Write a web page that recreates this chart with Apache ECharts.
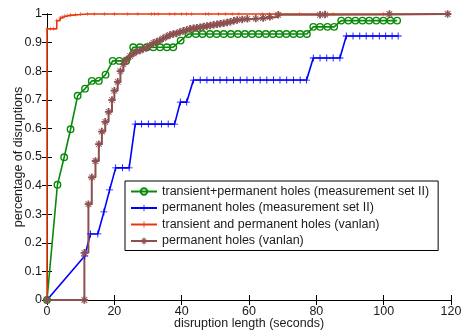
<!DOCTYPE html>
<html>
<head>
<meta charset="utf-8">
<script src="https://cdn.jsdelivr.net/npm/echarts@6/dist/echarts.min.js"></script>
<style>
  html, body { margin: 0; padding: 0; background: #fff; }
  #chart { width: 461px; height: 331px; }
</style>
</head>
<body>
<div id="chart"></div>
<script>
// Axis ticks
const xTicks = [0, 20, 40, 60, 80, 100, 120];
const yTicks = [0, 0.1, 0.2, 0.3, 0.4, 0.5, 0.6, 0.7, 0.8, 0.9, 1];

// Legend names
const seriesNames = [
  'transient+permanent holes (measurement set II)',
  'permanent holes (measurement set II)',
  'transient and permanent holes (vanlan)',
  'permanent holes (vanlan)'
];

// transient+permanent holes (measurement set II)
const tpMeasX = [0, 3.1, 5.1, 7.0, 9.1, 11.3, 13.3, 15.4, 17.4, 19.5, 21.5, 23.5, 25.6, 27.6, 29.6, 31.6, 33.6, 35.6, 37.5, 39.7, 42.0, 44.2, 46.2, 48.4, 50.4, 52.5, 54.6, 56.7, 58.8, 60.9, 62.9, 65.0, 67.1, 69.0, 71.1, 73.2, 75.2, 77.2, 79.1, 81.1, 83.3, 85.3, 87.4, 89.5, 91.6, 93.7, 95.7, 97.8, 99.9, 102.0, 104.0];
const tpMeasY = [0, 0.403, 0.499, 0.597, 0.714, 0.739, 0.766, 0.766, 0.788, 0.836, 0.836, 0.836, 0.884, 0.884, 0.884, 0.884, 0.884, 0.884, 0.884, 0.907, 0.930, 0.930, 0.930, 0.930, 0.930, 0.930, 0.930, 0.930, 0.930, 0.930, 0.930, 0.930, 0.930, 0.930, 0.930, 0.930, 0.930, 0.930, 0.955, 0.955, 0.955, 0.955, 0.977, 0.977, 0.977, 0.977, 0.977, 0.977, 0.977, 0.977, 0.977];

// permanent holes (measurement set II)
const pMeasX = [0, 11.2, 12.9, 15.1, 16.9, 18.6, 20.4, 22.4, 24.4, 26.2, 28.1, 30.1, 32.1, 34.0, 36.0, 37.9, 39.6, 41.5, 43.5, 45.5, 47.5, 49.5, 51.4, 53.4, 55.4, 57.4, 59.4, 61.3, 63.3, 65.3, 67.3, 69.2, 71.2, 73.2, 75.2, 77.1, 79.1, 81.1, 83.1, 85.0, 87.0, 88.9, 90.9, 92.9, 94.8, 96.8, 98.7, 100.6, 102.5, 104.3];
const pMeasY = [0, 0.154, 0.231, 0.231, 0.308, 0.385, 0.462, 0.462, 0.462, 0.615, 0.615, 0.615, 0.615, 0.615, 0.615, 0.615, 0.692, 0.692, 0.769, 0.769, 0.769, 0.769, 0.769, 0.769, 0.769, 0.769, 0.769, 0.769, 0.769, 0.769, 0.769, 0.769, 0.769, 0.769, 0.769, 0.769, 0.846, 0.846, 0.846, 0.846, 0.846, 0.923, 0.923, 0.923, 0.923, 0.923, 0.923, 0.923, 0.923, 0.923];

// transient and permanent holes (vanlan)
const tpVanX = [0, 0, 1.0, 2.0, 2.9, 3.9, 4.5, 5.2, 6.0, 7.0, 8.5, 10.0, 12.0, 14.0, 17.0, 20.0, 24.0, 27.0, 31.0, 32.0, 33.0, 36.5, 38.0, 40.0, 41.5, 43.0, 47.0, 48.0, 51.0, 53.0, 55.0, 57.0, 64.0, 66.0, 68.0, 69.0, 75.0, 85.0, 100.0, 119.0];
const tpVanY = [0, 0.948, 0.948, 0.948, 0.977, 0.986, 0.990, 0.993, 0.995, 0.997, 0.998, 1, 1, 1, 1, 1, 1, 1, 1, 1, 1, 1, 1, 1, 1, 1, 1, 1, 1, 1, 1, 1, 1, 1, 1, 1, 1, 1, 1, 1];

// permanent holes (vanlan)
const pVanX = [0, 11.1, 11.1, 12.3, 13.3, 14.4, 15.4, 16.3, 17.3, 18.3, 19.3, 20.0, 21.0, 21.8, 22.7, 23.6, 24.7, 25.7, 26.6, 27.6, 28.6, 29.6, 30.6, 31.6, 32.6, 33.5, 34.5, 35.5, 36.5, 37.5, 38.5, 39.5, 40.5, 41.5, 42.5, 43.5, 44.5, 45.5, 46.5, 47.5, 48.5, 49.5, 50.5, 51.5, 52.5, 53.5, 54.5, 55.5, 56.5, 58.0, 59.5, 62.0, 64.2, 66.2, 68.7, 81.1, 82.6, 101.7, 119.0];
const pVanY = [0, 0, 0.165, 0.335, 0.429, 0.486, 0.545, 0.589, 0.623, 0.658, 0.699, 0.732, 0.763, 0.800, 0.825, 0.840, 0.853, 0.862, 0.869, 0.872, 0.878, 0.882, 0.890, 0.899, 0.903, 0.908, 0.915, 0.921, 0.927, 0.930, 0.932, 0.937, 0.941, 0.944, 0.948, 0.950, 0.952, 0.954, 0.956, 0.958, 0.960, 0.962, 0.964, 0.966, 0.968, 0.970, 0.973, 0.976, 0.979, 0.981, 0.983, 0.984, 0.986, 0.990, 0.997, 0.997, 0.998, 1.0, 1.0];

const colors = ['#0a8a0a', '#0000ff', '#e8380d', '#8c5050'];

const pairs = (xs, ys) => xs.map((x, i) => [x, ys[i]]);

const plusPath = 'path://M4.4,0H5.6V10H4.4ZM0,4.4H10V5.6H0Z';
const starPath = 'path://M3.8,0H6.2V10H3.8ZM0,3.8H10V6.2H0ZM1.6,0.8L9.2,8.4L8.4,9.2L0.8,1.6ZM8.4,0.8L9.2,1.6L1.6,9.2L0.8,8.4Z';

const font = 'Liberation Sans, Arial, sans-serif';
const textColor = '#1a1a1a';
const fs = 12.5;

const chart = echarts.init(document.getElementById('chart'), null, { renderer: 'canvas' });

const axisLine = { show: true, lineStyle: { color: '#000', width: 1 } };
const tickIn = { show: true, inside: true, length: 5, lineStyle: { color: '#000', width: 1 } };

chart.setOption({
  animation: false,
  backgroundColor: '#fff',
  grid: { left: 47, right: 10, top: 14, bottom: 31, containLabel: false, outerBoundsMode: 'none' },
  xAxis: [
    {
      type: 'value', min: xTicks[0], max: xTicks[xTicks.length - 1], interval: 20,
      axisLine: axisLine, axisTick: tickIn, splitLine: { show: false },
      axisLabel: { fontFamily: font, fontSize: fs, color: textColor, margin: 5 },
      name: 'disruption length (seconds)', nameLocation: 'middle', nameGap: 17, nameMoveOverlap: false,
      nameTextStyle: { fontFamily: font, fontSize: fs, color: textColor }
    },
    {
      type: 'value', position: 'top', min: xTicks[0], max: xTicks[xTicks.length - 1], interval: 20,
      axisLine: axisLine, axisTick: tickIn, axisLabel: { show: false }, splitLine: { show: false }
    }
  ],
  yAxis: [
    {
      type: 'value', min: yTicks[0], max: yTicks[yTicks.length - 1], interval: 0.1,
      axisLine: axisLine, axisTick: tickIn, splitLine: { show: false },
      axisLabel: {
        fontFamily: font, fontSize: fs, color: textColor, margin: 5,
        formatter: v => (v === 0 || v === 1) ? String(v) : v.toFixed(1)
      },
      name: 'percentage of disruptions', nameLocation: 'middle', nameGap: 22, nameMoveOverlap: false,
      nameTextStyle: { fontFamily: font, fontSize: fs, color: textColor }
    },
    {
      type: 'value', position: 'right', min: yTicks[0], max: yTicks[yTicks.length - 1], interval: 0.1,
      axisLine: axisLine, axisTick: tickIn, axisLabel: { show: false }, splitLine: { show: false }
    }
  ],
  legend: {
    orient: 'vertical', left: 125, top: 181,
    backgroundColor: '#fff', borderColor: '#000', borderWidth: 1, borderRadius: 0,
    padding: [4, 9, 3, 5], itemGap: 3.5, itemWidth: 26, itemHeight: 8,
    textStyle: { fontFamily: font, fontSize: fs, color: textColor },
    data: seriesNames
  },
  series: [
    {
      name: seriesNames[0], type: 'line', data: pairs(tpMeasX, tpMeasY), clip: false,
      symbol: 'circle', symbolSize: 6.5,
      itemStyle: { color: 'rgba(0,0,0,0)', borderColor: colors[0], borderWidth: 1.4 },
      lineStyle: { color: colors[0], width: 1.6 }
    },
    {
      name: seriesNames[1], type: 'line', data: pairs(pMeasX, pMeasY), clip: false,
      symbol: plusPath, symbolSize: 7, symbolKeepAspect: true,
      itemStyle: { color: colors[1] },
      lineStyle: { color: colors[1], width: 1.6 }
    },
    {
      name: seriesNames[2], type: 'line', step: 'end', data: pairs(tpVanX, tpVanY), clip: false,
      symbol: plusPath, symbolSize: 4,
      itemStyle: { color: colors[2] },
      lineStyle: { color: colors[2], width: 1.6 }
    },
    {
      name: seriesNames[3], type: 'line', step: 'end', data: pairs(pVanX, pVanY), clip: false,
      symbol: starPath, symbolSize: 7.5,
      itemStyle: { color: colors[3] },
      lineStyle: { color: colors[3], width: 2 }
    }
  ]
});
</script>
</body>
</html>
